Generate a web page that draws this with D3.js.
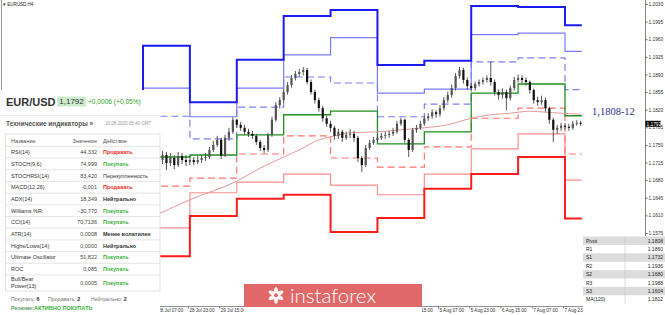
<!DOCTYPE html>
<html lang="ru">
<head>
<meta charset="UTF-8">
<script src="https://d3js.org/d3.v7.min.js"></script>
<title>EURUSD H1 pivot levels</title>
<style>
  body{margin:0;background:#fff;}
  svg{display:block;font-family:Arial,"Liberation Sans",sans-serif;}
</style>
</head>
<body>
<svg id="chart" width="665" height="315"></svg>
<script>
// ---------- data ----------
// daily pivot levels, first entry is the day before the visible range
const dayNames = ["27 Jul","28 Jul","29 Jul","30 Jul","31 Jul","3 Aug","4 Aug","5 Aug","6 Aug","7 Aug","10 Aug"];
const r3 = [1.1850,1.1947,1.1835,1.1919,1.2006,1.2018,1.1909,1.1917,1.2026,1.2024,1.1988];
const r2 = [1.1790,1.1863,1.1806,1.1863,1.1929,1.1963,1.1853,1.1861,1.1969,1.1972,1.1936];
const r1 = [1.1760,1.1807,1.1762,1.1825,1.1885,1.1873,1.1806,1.1831,1.1915,1.1923,1.1860];
const pp = [1.1710,1.1726,1.1730,1.1770,1.1810,1.1817,1.1752,1.1776,1.1853,1.1871,1.1808];
const s1 = [1.1670,1.1668,1.1684,1.1732,1.1768,1.1724,1.1706,1.1746,1.1803,1.1823,1.1732];
const s2 = [1.1620,1.1585,1.1655,1.1676,1.1692,1.1670,1.1651,1.1692,1.1742,1.1772,1.1680];
const s3 = [1.1570,1.1529,1.1609,1.1643,1.1651,1.1577,1.1605,1.1663,1.1692,1.1726,1.1604];

// price bars (2h steps, bar 0 = 28 Jul 00:00), visible from bar 4
const firstCandleBar = 4;
const firstOpen = 1.1724;
const candleClose = [
 1.1720,1.1730,1.1714,1.1724,1.1710,1.1728,1.1720,1.1716,1.1720,1.1716,
 1.1720,1.1724,1.1726,1.1740,1.1750,1.1760,1.1728,1.1764,1.1776,1.1800,
 1.1790,1.1784,1.1776,1.1772,1.1768,1.1756,1.1744,1.1740,1.1770,1.1800,
 1.1829,1.1839,1.1855,1.1869,1.1883,1.1891,1.1895,1.1899,1.1875,1.1855,
 1.1839,1.1823,1.1803,1.1792,1.1784,1.1768,1.1776,1.1764,1.1770,1.1772,
 1.1764,1.1724,1.1710,1.1744,1.1754,1.1760,1.1764,1.1768,1.1770,1.1772,
 1.1776,1.1792,1.1800,1.1760,1.1740,1.1780,1.1784,1.1792,1.1803,1.1807,
 1.1815,1.1811,1.1823,1.1839,1.1849,1.1863,1.1887,1.1899,1.1879,1.1867,
 1.1863,1.1871,1.1875,1.1879,1.1883,1.1875,1.1855,1.1849,1.1855,1.1843,
 1.1863,1.1879,1.1883,1.1879,1.1875,1.1859,1.1839,1.1835,1.1839,1.1823,
 1.1800,1.1780,1.1784,1.1788,1.1786,1.1784,1.1792,1.1794,1.1792];
const candleHigh = [
 1.1732,1.1738,1.1736,1.1734,1.1730,1.1736,1.1734,1.1730,1.1728,1.1726,
 1.1728,1.1730,1.1734,1.1746,1.1758,1.1768,1.1764,1.1770,1.1784,1.1805,
 1.1802,1.1796,1.1790,1.1782,1.1778,1.1772,1.1760,1.1750,1.1774,1.1806,
 1.1835,1.1845,1.1862,1.1875,1.1889,1.1897,1.1901,1.1905,1.1903,1.1880,
 1.1860,1.1844,1.1828,1.1808,1.1798,1.1788,1.1782,1.1780,1.1776,1.1782,
 1.1778,1.1768,1.1728,1.1750,1.1760,1.1766,1.1770,1.1774,1.1776,1.1778,
 1.1784,1.1798,1.1804,1.1802,1.1764,1.1784,1.1790,1.1798,1.1808,1.1813,
 1.1821,1.1819,1.1829,1.1845,1.1856,1.1870,1.1893,1.1905,1.1903,1.1884,
 1.1872,1.1876,1.1880,1.1884,1.1888,1.1915,1.1880,1.1860,1.1862,1.1860,
 1.1868,1.1885,1.1890,1.1888,1.1884,1.1878,1.1862,1.1846,1.1848,1.1844,
 1.1826,1.1804,1.1790,1.1794,1.1794,1.1792,1.1798,1.1799,1.1798];
const candleLow = [
 1.1708,1.1712,1.1700,1.1708,1.1702,1.1706,1.1712,1.1708,1.1710,1.1710,
 1.1712,1.1714,1.1718,1.1722,1.1736,1.1746,1.1722,1.1726,1.1758,1.1772,
 1.1784,1.1778,1.1770,1.1766,1.1762,1.1750,1.1738,1.1734,1.1736,1.1766,
 1.1796,1.1822,1.1834,1.1850,1.1864,1.1878,1.1886,1.1888,1.1870,1.1850,
 1.1832,1.1816,1.1796,1.1786,1.1776,1.1760,1.1762,1.1756,1.1760,1.1764,
 1.1756,1.1716,1.1696,1.1706,1.1740,1.1750,1.1756,1.1760,1.1762,1.1764,
 1.1768,1.1772,1.1788,1.1754,1.1726,1.1736,1.1774,1.1780,1.1788,1.1798,
 1.1802,1.1804,1.1806,1.1818,1.1834,1.1844,1.1858,1.1882,1.1872,1.1860,
 1.1856,1.1858,1.1866,1.1870,1.1874,1.1868,1.1848,1.1840,1.1842,1.1819,
 1.1838,1.1858,1.1874,1.1872,1.1868,1.1852,1.1832,1.1828,1.1830,1.1816,
 1.1792,1.1756,1.1772,1.1778,1.1780,1.1778,1.1780,1.1788,1.1788];

// MA(120) read at a few bars
const maBars   = [4,12,24,30,36,40,45,48,53,60,66,72,78,84,89,94,99,103,107,112];
const maValues = [1.1613,1.1641,1.1678,1.1704,1.1726,1.1740,1.1760,1.1766,1.1774,1.1776,
                  1.1780,1.1784,1.1790,1.1803,1.1810,1.1813,1.1817,1.1815,1.1813,1.1811];

const priceTicks = [1.2030,1.1995,1.1960,1.1925,1.1890,1.1855,1.1820,1.1785,1.1750,1.1715,1.1680,1.1645,1.1610,1.1575];
const lastPrice = 1.1792;
const timeTickBars = [3.5,11.5,19.5,27.5,35.5,43.5,51.5,59.5,67.5,75.5,83.5,91.5,99.5,107.5];
const timeTickLabels = ["28 Jul 07:00","28 Jul 23:00","29 Jul 15:00","30 Jul 07:00","30 Jul 23:00","31 Jul 15:00",
  "3 Aug 07:00","3 Aug 23:00","4 Aug 15:00","5 Aug 07:00","5 Aug 23:00","6 Aug 15:00","7 Aug 07:00","7 Aug 23:00"];

const pivotNames  = ["Pivot","R1","S1","R2","S2","R3","S3","MA(120)"];
const pivotValues = ["1.1808","1.1860","1.1732","1.1936","1.1680","1.1988","1.1604","1.1812"];

const indNames   = ["RSI(14)","STOCH(9,6)","STOCHRSI(14)","MACD(12,26)","ADX(14)","Williams %R","CCI(14)",
                    "ATR(14)","Highs/Lows(14)","Ultimate Oscillator","ROC","Bull/Bear Power(13)"];
const indValues  = ["44,332","74,999","83,420","-0,001","18,349","-30,770","70,7136","0,0008","0,0000","51,822","0,085","0,0005"];
const indActions = ["Продавать","Покупать","Перекупленность","Продавать","Нейтрально","Покупать","Покупать",
                    "Менее волатилен","Нейтрально","Покупать","Покупать","Покупать"];

// ---------- setup ----------
const svg = d3.select("svg#chart");
const x = d3.scaleLinear().domain([0,108]).range([143,565]);
const y = d3.scaleLinear().domain([1.1575,1.2030]).range([233,4]);
const lastBar = 112.3;

const chartArea = svg.append("g").attr("id","plot");

// left border + symbol caption
svg.append("line").attr("x1",1.5).attr("x2",1.5).attr("y1",0).attr("y2",92).attr("stroke","#999");
svg.append("text").attr("x",3).attr("y",5.5).attr("font-size",4.5).attr("fill","#222").text("▾ EURUSD,H4");

// ---------- pivot steps ----------
const dayBars = dayNames.map((d,i)=>(i-1)*12);
const stepLine = d3.line().x(d=>x(d[0])).y(d=>y(d[1])).curve(d3.curveStepAfter);
function stepPoints(vals){
  const pts = vals.map((v,i)=>[dayBars[i],v]);
  pts.push([lastBar, vals[vals.length-1]]);
  return pts;
}
const levels = [
  {vals:r2, color:"#7b7bff", w:1.2, dash:null},
  {vals:s2, color:"#ff8f8f", w:1.2, dash:null},
  {vals:r1, color:"#7f7ff8", w:1.2, dash:"7,4"},
  {vals:s1, color:"#ff7272", w:1.2, dash:"7,4"},
  {vals:pp, color:"#1f8f1f", w:1.3, dash:null},
  {vals:r3, color:"#1c1cf2", w:2, dash:null},
  {vals:s3, color:"#ff1c1c", w:2, dash:null}
];
levels.forEach(l=>{
  chartArea.append("path")
    .datum(stepPoints(l.vals))
    .attr("fill","none")
    .attr("stroke",l.color)
    .attr("stroke-width",l.w)
    .attr("stroke-dasharray",l.dash)
    .attr("d",stepLine);
});

// MA(120)
const maLine = d3.line().x(d=>x(d[0])).y(d=>y(d[1])).curve(d3.curveMonotoneX);
chartArea.append("path")
  .datum(maBars.map((b,i)=>[b,maValues[i]]))
  .attr("fill","none").attr("stroke","#e29a9a").attr("stroke-width",1)
  .attr("d",maLine);

// ---------- candles ----------
const candles = candleClose.map((c,k)=>({
  bar:firstCandleBar+k,
  open:k===0?firstOpen:candleClose[k-1],
  close:c, high:candleHigh[k], low:candleLow[k]
}));
chartArea.append("g").selectAll("line").data(candles).join("line")
  .attr("x1",d=>x(d.bar)).attr("x2",d=>x(d.bar))
  .attr("y1",d=>y(d.high)).attr("y2",d=>y(d.low))
  .attr("stroke","#444").attr("stroke-width",0.9);
chartArea.append("g").selectAll("rect").data(candles).join("rect")
  .attr("x",d=>x(d.bar)-1.1).attr("width",2.2)
  .attr("y",d=>y(Math.max(d.open,d.close)))
  .attr("height",d=>Math.max(0.8,Math.abs(y(d.open)-y(d.close))))
  .attr("fill",d=>d.close>=d.open?"#555":"#111");

// level label
svg.append("text").attr("x",592).attr("y",115)
  .attr("font-family","'Liberation Serif','Times New Roman',serif")
  .attr("font-size",10.5).attr("fill","#2e2e8c").text("1,1808-12");

// ---------- axes ----------
svg.append("line").attr("x1",645.5).attr("x2",645.5).attr("y1",0).attr("y2",306.5).attr("stroke","#666").attr("stroke-width",0.8);
const priceAxis = d3.axisRight(y).tickValues(priceTicks).tickFormat(d3.format(".4f")).tickSize(2).tickPadding(1);
svg.append("g").attr("transform","translate(645.5,0)").call(priceAxis)
  .call(g=>g.select(".domain").remove())
  .call(g=>g.selectAll("line").attr("stroke","#666"))
  .call(g=>g.selectAll("text").attr("font-size",4.8).attr("fill","#333").attr("font-family","Arial,'Liberation Sans',sans-serif"));
svg.append("rect").attr("x",645.5).attr("y",y(lastPrice)-3).attr("width",15).attr("height",6).attr("fill","#000");
svg.append("text").attr("x",646.5).attr("y",y(lastPrice)+1.8).attr("font-size",4.8).attr("fill","#fff").text(d3.format(".4f")(lastPrice));

svg.append("line").attr("x1",0).attr("x2",645.5).attr("y1",306.5).attr("y2",306.5).attr("stroke","#777").attr("stroke-width",0.8);
const timeAxis = d3.axisBottom(x).tickValues(timeTickBars).tickFormat((d,i)=>timeTickLabels[i]).tickSize(2);
svg.append("g").attr("transform","translate(0,306.5)").call(timeAxis)
  .call(g=>g.select(".domain").remove())
  .call(g=>g.selectAll("line").attr("stroke","#777"))
  .call(g=>g.selectAll("text").attr("text-anchor","start").attr("x",1).attr("y",2.5)
           .attr("font-size",4.6).attr("fill","#333").attr("font-family","Arial,'Liberation Sans',sans-serif"));

// ---------- watermark ----------
const logo = svg.append("g");
logo.append("rect").attr("x",244).attr("y",306).attr("width",178).attr("height",9).attr("fill","#fff");
logo.append("rect").attr("x",244).attr("y",284).attr("width",178).attr("height",23).attr("fill","#e06868");
const icon = logo.append("g").attr("transform","translate(276,295.3)");
d3.range(6).forEach(k=>{
  icon.append("ellipse").attr("rx",2.2).attr("ry",5.5).attr("fill","#fff").attr("opacity",0.9)
    .attr("transform",`rotate(${k*60}) translate(0,-3)`);
});
icon.append("circle").attr("r",2).attr("fill","#e06868");
logo.append("text").attr("x",290).attr("y",302.5)
  .attr("font-family","Lato,'Open Sans',sans-serif").attr("font-weight",300)
  .attr("font-size",19).attr("fill","#fff")
  .attr("textLength",86).attr("lengthAdjust","spacingAndGlyphs").text("instaforex");

// ---------- indicator panel ----------
const panel = svg.append("g");
panel.append("rect").attr("x",0).attr("y",90).attr("width",160).attr("height",225).attr("fill","#fff");
panel.append("text").attr("x",6).attr("y",105.5).attr("font-size",11).attr("font-weight","bold").attr("fill","#333").text("EUR/USD");
panel.append("rect").attr("x",57).attr("y",96.5).attr("width",29).attr("height",10).attr("fill","#cdeccd");
panel.append("text").attr("x",71.5).attr("y",104.3).attr("text-anchor","middle").attr("font-size",8).attr("fill","#333").text("1,1792");
panel.append("text").attr("x",88).attr("y",104).attr("font-size",6.6).attr("fill","#2ca02c").text("+0,0006 (+0,05%)");
panel.append("line").attr("x1",0).attr("x2",160).attr("y1",115.5).attr("y2",115.5).attr("stroke","#ececec");
panel.append("text").attr("x",6).attr("y",125.5).attr("font-size",6.5).attr("font-weight","bold").attr("fill","#555").text("Технические индикаторы »");
panel.append("text").attr("x",105).attr("y",125).attr("font-size",4.5).attr("fill","#999").text("10.08.2020 05:40 GMT");

panel.append("rect").attr("x",5.5).attr("y",134).attr("width",154.5).attr("height",157).attr("fill","none").attr("stroke","#ddd").attr("stroke-width",0.8);
panel.append("text").attr("x",11).attr("y",142.5).attr("font-size",5.5).attr("fill","#555").text("Название");
panel.append("text").attr("x",97).attr("y",142.5).attr("text-anchor","end").attr("font-size",5.5).attr("fill","#555").text("Значение");
panel.append("text").attr("x",103).attr("y",142.5).attr("font-size",5.5).attr("fill","#555").text("Действие");

const rowH = 11.7;
const actionColor = a => a==="Покупать" ? "#3cae3c" : a==="Продавать" ? "#e8302f" : "#333";
indNames.forEach((name,k)=>{
  const top = 146.3 + k*rowH;
  panel.append("line").attr("x1",5.5).attr("x2",160).attr("y1",top).attr("y2",top).attr("stroke","#e0e0e0").attr("stroke-width",0.8);
  const tall = k===indNames.length-1;
  const cy = tall ? 282.7 : top + rowH/2;
  if(tall){
    const parts = name.split(" ");
    panel.append("text").attr("x",11).attr("y",281).attr("font-size",5.5).attr("fill","#333").text(parts[0]);
    panel.append("text").attr("x",11).attr("y",288).attr("font-size",5.5).attr("fill","#333").text(parts.slice(1).join(" "));
  } else {
    panel.append("text").attr("x",11).attr("y",cy+2).attr("font-size",5.5).attr("fill","#333").text(name);
  }
  panel.append("text").attr("x",97).attr("y",cy+2).attr("text-anchor","end").attr("font-size",5.5).attr("fill","#444").text(indValues[k]);
  const a = indActions[k];
  panel.append("text").attr("x",103).attr("y",cy+2).attr("font-size",5.5)
    .attr("font-weight",a==="Перекупленность"?"normal":"bold")
    .attr("fill",actionColor(a)).text(a);
});

const foot = panel.append("text").attr("y",300.5).attr("font-size",5.3).attr("fill","#777");
foot.append("tspan").attr("x",11).text("Покупать: ");
foot.append("tspan").attr("fill","#333").attr("font-weight","bold").text("6");
foot.append("tspan").attr("x",48).text("Продавать: ");
foot.append("tspan").attr("fill","#333").attr("font-weight","bold").text("2");
foot.append("tspan").attr("x",91).text("Нейтрально: ");
foot.append("tspan").attr("fill","#333").attr("font-weight","bold").text("2");
const summ = panel.append("text").attr("x",11).attr("y",309.5).attr("font-size",5.5).attr("font-weight","bold");
summ.append("tspan").attr("fill","#6a9a6a").text("Резюме:");
summ.append("tspan").attr("fill","#3cae3c").text("АКТИВНО ПОКУПАТЬ");

// ---------- pivot table ----------
const pt = svg.append("g");
pt.append("rect").attr("x",583).attr("y",236).attr("width",82).attr("height",79).attr("fill","#fff");
pivotNames.forEach((n,k)=>{
  const top = 236.5 + k*8.4;
  if(k%2===0) pt.append("rect").attr("x",583).attr("y",top).attr("width",82).attr("height",8.4).attr("fill","#dcdcdc");
  pt.append("text").attr("x",586).attr("y",top+6).attr("font-size",5).attr("fill","#222").text(n);
  pt.append("text").attr("x",663).attr("y",top+6).attr("text-anchor","end").attr("font-size",5).attr("fill","#222").text(pivotValues[k]);
});
pt.append("line").attr("x1",625).attr("x2",625).attr("y1",236.5).attr("y2",236.5+8*8.4).attr("stroke","#c8c8c8").attr("stroke-width",0.6);
</script>
</body>
</html>
